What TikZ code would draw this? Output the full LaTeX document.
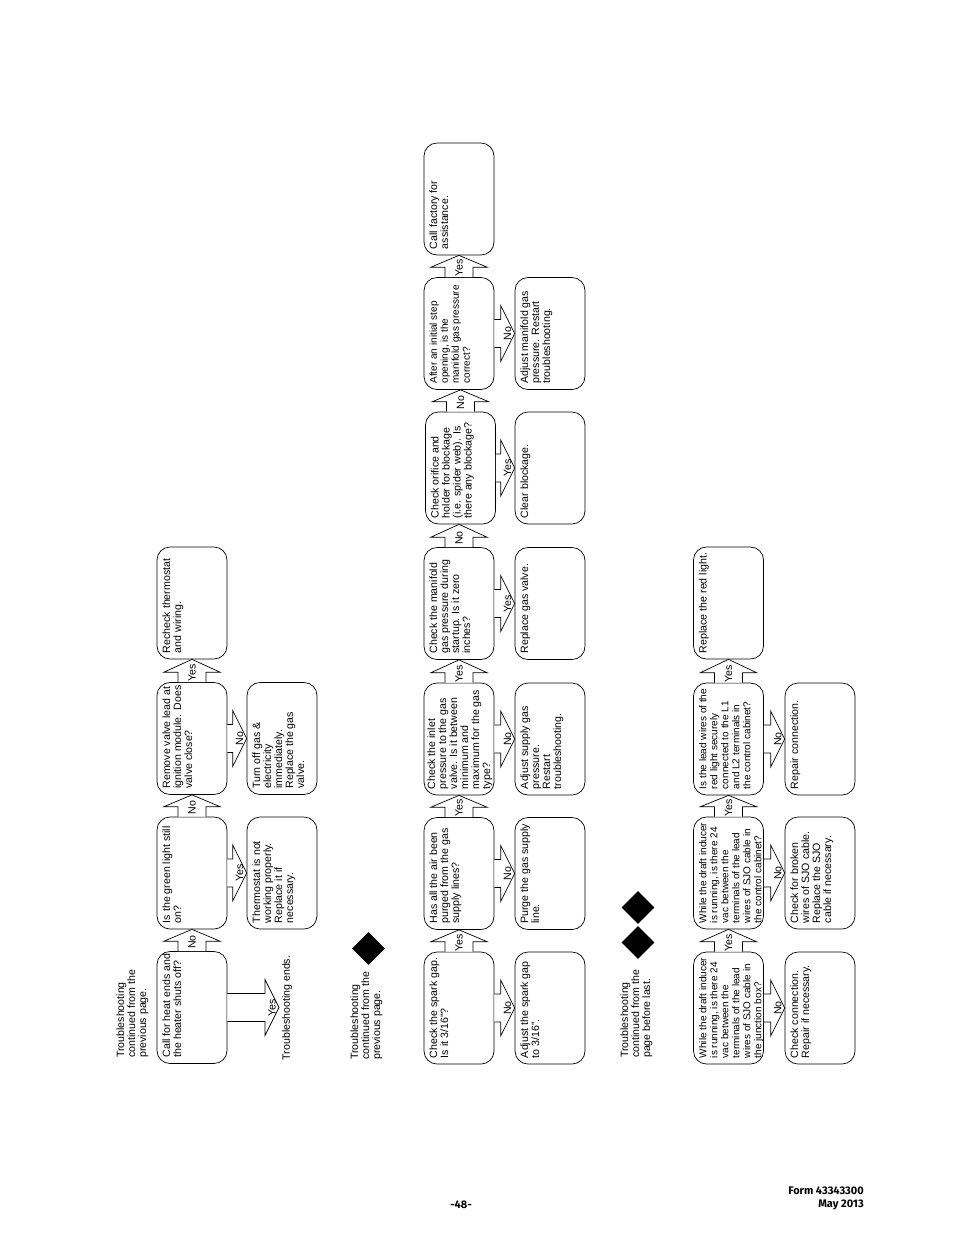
\documentclass[tikz,border=0pt]{standalone}
\usepackage{fontspec}
\usepackage{tikz}
\usetikzlibrary{shapes.geometric, calc}
\setmainfont{Liberation Sans}
\newfontfamily\footfont{Fira Sans}
\newcommand{\steptext}[1]{\parbox[c][60pt][t]{100pt}{\vspace*{0.5pt}\parbox[t]{114pt}{\raggedright #1}}}
\newcommand{\tightfont}{\fontsize{10}{11}\selectfont}

\tikzset{
stepbox/.style={draw, rotate=90, rounded corners=13pt, inner xsep=6pt, inner ysep=5pt, line width=0.7pt},
plaintext/.style={rotate=90, inner sep=3pt},
notetext/.style={plaintext, align=left, anchor=west},
blockline/.style={draw, fill=white, line width=0.7pt},
arrowlabel/.style={rotate=90, inner sep=0pt},
gotomark/.style={diamond, fill=black, inner sep=0pt, minimum width=33pt, minimum height=33pt},
footnote/.style={inner sep=0pt, font=\footfont\bfseries\fontsize{11}{12.5}\selectfont}
}

% arrow going up the page: from box, to box, label
\newcommand{\flowup}[3]{
\draw[blockline] ($(#1.east)+(-14,0)$) -- ++(0,-10) -- ++(-14,0) -- (#1.east |- #2.west) -- ($(#1.east)+(28,-10)$) -- ($(#1.east)+(14,-10)$) -- ($(#1.east)+(14,0)$);
\node[arrowlabel] at ($(#1.east)+(0,-9)$) {#3};
}
% arrow going to the right of the page
\newcommand{\flowside}[3]{
\coordinate (tip) at (#2.north |- #1.south);
\draw[blockline] ($(#1.south)+(0,14)$) -- ($(tip)+(-14,14)$) -- ($(tip)+(-14,28)$) -- (tip) -- ($(tip)+(-14,-28)$) -- ($(tip)+(-14,-14)$) -- ($(#1.south)+(0,-14)$);
\node[arrowlabel] at ($(tip)+(-7,0)$) {#3};
}

\begin{document}
\begin{tikzpicture}[x=1pt, y=-1pt, font=\fontsize{10.6}{11}\selectfont]
\useasboundingbox (0,0) rectangle (954,1235);

% first row
\node[notetext] (contone) at (132.5,1061) {Troubleshooting\\continued from the\\previous page.};
\node[stepbox] (callheat) at (192,1007.5) {\steptext{Call for heat ends and\\the heater shuts off?}};
\node[stepbox] (green) at (192,873) {\steptext{Is the green light still\\on?}};
\node[stepbox] (valve) at (192,738.5) {\steptext{Remove valve lead at\\ignition module. Does\\valve close?}};
\node[stepbox] (recheck) at (192,603) {\steptext{Recheck thermostat\\and wiring.}};
\node[plaintext, anchor=north] (ends) at (279,1008) {Troubleshooting ends.};
\node[stepbox] (thermostat) at (282,873) {\steptext{Thermostat is not\\working properly.\\Replace it if\\necessary.}};
\node[stepbox] (turnoff) at (282,738.5) {\steptext{Turn off gas \&\\electricity\\immediately.\\Replace the gas\\valve.}};

\flowup{callheat}{green}{No}
\flowup{green}{valve}{No}
\flowup{valve}{recheck}{Yes}
\flowside{callheat}{ends}{Yes}
\flowside{green}{thermostat}{Yes}
\flowside{valve}{turnoff}{No}

% second row
\node[notetext] (conttwo) at (366.5,1063) {Troubleshooting\\continued from the\\previous page.};
\node[gotomark] (marktwo) at (368.5,948.5) {};
\node[stepbox] (spark) at (459,1008) {\steptext{Check the spark gap.\\Is it 3/16"?}};
\node[stepbox] (air) at (459,873.5) {\steptext{Has all the air been\\purged from the gas\\supply lines?}};
\node[stepbox] (inlet) at (459,739) {\steptext{\vspace*{-2pt}Check the inlet\\pressure to the gas\\valve. Is it between\\minimum and\\maximum for the gas\\type?}};
\node[stepbox] (manifold) at (459,603.5) {\steptext{Check the manifold\\gas pressure during\\startup. Is it zero\\inches?}};
\node[stepbox] (orifice) at (460.5,468) {\steptext{Check orifice and\\holder for blockage\\(i.e. spider web). Is\\there any blockage?}};
\node[stepbox] (after) at (459,333.5) {\steptext{\tightfont After an initial step\\opening, is the\\manifold gas pressure\\correct?}};
\node[stepbox] (factory) at (459,199) {\steptext{Call factory for\\assistance.}};
\node[stepbox] (adjustgap) at (550,1008) {\steptext{Adjust the spark gap\\to 3/16".}};
\node[stepbox] (purge) at (550,873.5) {\steptext{Purge the gas supply\\line.}};
\node[stepbox] (adjustsupply) at (550,739) {\steptext{Adjust supply gas\\pressure.\\Restart\\troubleshooting.}};
\node[stepbox] (replacegas) at (550,603.5) {\steptext{Replace gas valve.}};
\node[stepbox] (clear) at (550,468) {\steptext{Clear blockage.}};
\node[stepbox] (adjustmanifold) at (550,333.5) {\steptext{Adjust manifold gas\\pressure. Restart\\troubleshooting.}};

\flowup{spark}{air}{Yes}
\flowup{air}{inlet}{Yes}
\flowup{inlet}{manifold}{Yes}
\flowup{manifold}{orifice}{No}
\flowup{orifice}{after}{No}
\flowup{after}{factory}{Yes}
\flowside{spark}{adjustgap}{No}
\flowside{air}{purge}{No}
\flowside{inlet}{adjustsupply}{No}
\flowside{manifold}{replacegas}{Yes}
\flowside{orifice}{clear}{Yes}
\flowside{after}{adjustmanifold}{No}

% third row
\node[notetext] (contthree) at (636.5,1061) {Troubleshooting\\continued from the\\page before last.};
\node[gotomark] (markone) at (638,907.5) {};
\node[gotomark] (markthree) at (638,942.5) {};
\node[stepbox] (junction) at (728.5,1008) {\steptext{\tightfont While the draft inducer\\is running, is there 24\\vac between the\\terminals of the lead\\wires of SJO cable in\\the junction box?}};
\node[stepbox] (cabinet) at (728.5,873) {\steptext{\tightfont While the draft inducer\\is running, is there 24\\vac between the\\terminals of the lead\\wires of SJO cable in\\the control cabinet?}};
\node[stepbox] (leadwires) at (728.5,739) {\steptext{\tightfont Is the lead wires of the\\red light securely\\connected to the L1\\and L2 terminals in\\the control cabinet?}};
\node[stepbox] (redlight) at (728.5,603) {\steptext{Replace the red light.}};
\node[stepbox] (connection) at (820,1008) {\steptext{Check connection.\\Repair if necessary.}};
\node[stepbox] (broken) at (820,873) {\steptext{Check for broken\\wires of SJO cable.\\Replace the SJO\\cable if necessary.}};
\node[stepbox] (repair) at (820,739) {\steptext{Repair connection.}};

\flowup{junction}{cabinet}{Yes}
\flowup{cabinet}{leadwires}{Yes}
\flowup{leadwires}{redlight}{Yes}
\flowside{junction}{connection}{No}
\flowside{cabinet}{broken}{No}
\flowside{leadwires}{repair}{No}

% page footer
\node[footnote] (pagenum) at (461,1205) {-48-};
\node[footnote, align=right, anchor=east] (form) at (864,1198.5) {Form 43343300\\May 2013};
\end{tikzpicture}
\end{document}
